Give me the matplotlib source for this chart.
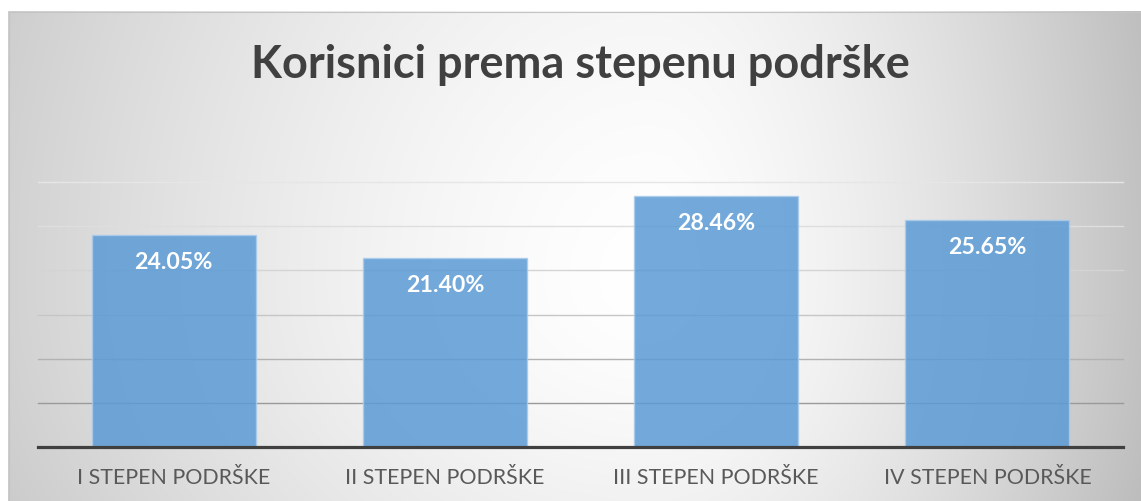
import numpy as np
import matplotlib
matplotlib.use("Agg")
import matplotlib.pyplot as plt

categories = ["I STEPEN PODRŠKE", "II STEPEN PODRŠKE", "III STEPEN PODRŠKE", "IV STEPEN PODRŠKE"]
values = [24.05, 21.40, 28.46, 25.65]
value_labels = ["24.05%", "21.40%", "28.46%", "25.65%"]
y_ticks = [5, 10, 15, 20, 25, 30]
title = "Korisnici prema stepenu podrške"

W, H = 1141, 501
fig = plt.figure(figsize=(W / 100, H / 100), dpi=100)
fig.patch.set_facecolor("white")

# ---- background (radial gradient chart area) ----
bg = fig.add_axes([0, 0, 1, 1])
bg.axis("off")
x0, y0 = 8, 11
xx, yy = np.meshgrid(np.arange(x0, W) + 0.5, np.arange(y0, H) + 0.5)
cx, cy = 650, 280
sx = np.where(xx < cx, 830.0, 520.0)
sy = np.where(yy < cy, 1000.0, 650.0)
d = np.sqrt(((xx - cx) / sx) ** 2 + ((yy - cy) / sy) ** 2)
val = 255 - 66 * np.clip(d, 0, 1.3) ** 1.5
img = np.stack([val] * 3, -1) / 255.0
bg.imshow(img, extent=(x0, W, H, y0), interpolation="bilinear", aspect="auto")
bg.plot([x0 + 0.5, x0 + 0.5, W], [H, y0 + 0.5, y0 + 0.5], color="#c4c4c4", lw=0.8)
bg.set_xlim(0, W)
bg.set_ylim(H, 0)

# ---- plot axes ----
px_left, px_right, px_base, px_top = 38, 1123, 447, 182
ax = fig.add_axes([px_left / W, (H - px_base) / H, (px_right - px_left) / W, (px_base - px_top) / H])
ax.set_facecolor("none")
for s in ax.spines.values():
    s.set_visible(False)
x = np.arange(len(categories))
ax.set_xlim(-0.5, len(categories) - 0.5)
ax.set_ylim(0, 30)
ax.set_yticks([])

grid_colors = ["#9a9a9a", "#b2b2b2", "#c6c6c6", "#d4d4d4", "#dedede", "#e6e6e6"]
for t, c in zip(y_ticks, grid_colors):
    ax.axhline(t, color=c, lw=1.0, zorder=1, clip_on=False)

ax.bar(x, values, width=0.605, color="#5B9BD5", alpha=0.85,
       edgecolor="#a9cbeb", linewidth=1.0, zorder=2)
ax.axhline(0, color="#404040", lw=2.3, zorder=3, clip_on=False)

FONT = "Lato"
ax.set_xticks(x)
ax.set_xticklabels(categories, fontsize=14, color="#595959", family=FONT)
ax.tick_params(axis="x", length=0, pad=37 * 0.72)
for lab in ax.get_xticklabels():
    lab.set_verticalalignment("baseline")

labels = []
for i, (v, s) in enumerate(zip(values, value_labels)):
    labels.append(ax.annotate(s, (i, v), xytext=(0, -34), textcoords="offset pixels",
                              ha="center", va="baseline", color="white",
                              fontweight="bold", fontsize=14, family=FONT, zorder=4))

ttl = fig.text(580.5 / W, (H - 78.3) / H, title, ha="center", va="baseline",
               fontsize=30, fontweight="bold", color="#404040", family=FONT)

# fit font sizes to reference text widths (slightly enlarged to match heights)
fig.canvas.draw()
r = fig.canvas.get_renderer()

def fit(t, target, boost=1.0):
    w = t.get_window_extent(r).width
    return t.get_fontsize() * target / w * boost

ttl.set_fontsize(fit(ttl, 646, 1.02))
fs_tick = fit(ax.get_xticklabels()[0], 179, 1.08)
for lab in ax.get_xticklabels():
    lab.set_fontsize(fs_tick)
fs_lab = fit(labels[1], 70, 1.12)
for l in labels:
    l.set_fontsize(fs_lab)

fig.savefig("out.png", dpi=100, facecolor="white")
